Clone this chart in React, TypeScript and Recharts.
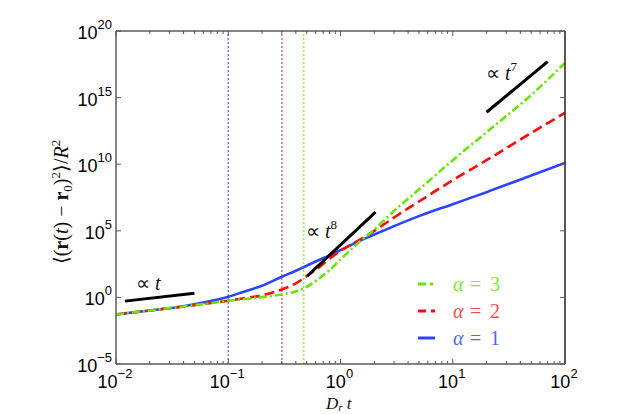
import { Legend, Line, LineChart, ReferenceLine, XAxis, YAxis } from "recharts";

// Dimensionless time D_r t (log-spaced read points)
const T = [0.01, 0.02, 0.04, 0.063, 0.1, 0.14, 0.2, 0.3, 0.4, 0.5, 0.63, 0.8, 1, 1.4, 2, 3, 5, 10, 20, 50, 100];

// log10 of the mean-square displacement
const BLUE_EXP = [-1.28, -0.98, -0.66, -0.35, 0.05, 0.45, 0.88, 1.55, 2.0, 2.38, 2.77, 3.15, 3.55, 4.15, 4.72, 5.35, 6.1, 7.0, 7.9, 9.15, 10.1];
const RED_EXP = [-1.28, -0.98, -0.68, -0.48, -0.25, -0.05, 0.15, 0.6, 1.05, 1.6, 2.2, 2.9, 3.5, 4.2, 5.0, 6.0, 7.2, 8.8, 10.3, 12.35, 13.85];
const GREEN_EXP = [-1.28, -0.98, -0.68, -0.48, -0.25, -0.12, 0.02, 0.22, 0.45, 0.8, 1.35, 2.05, 2.85, 4.0, 5.1, 6.5, 8.1, 10.3, 12.4, 15.2, 17.6];

// guide segments (t, log10 y)
const SLOPE1_T = [0.012, 0.05];
const SLOPE1_EXP = [-0.28, 0.32];
const SLOPE8_T = [0.505, 2.05];
const SLOPE8_EXP = [1.6, 6.4];
const SLOPE7_T = [20, 70];
const SLOPE7_EXP = [13.9, 17.7];

// crossover times
const CROSS_T = [0.1, 0.3, 0.47];

const X_MAJOR = [0.01, 0.1, 1, 10, 100];
const Y_TICKS = [1e-5, 1, 1e5, 1e10, 1e15, 1e20];

const BLUE = "#2a44ff";
const RED = "#ff0a0a";
const GREEN = "#66e600";
const CROSS_COLORS = ["#6f82ff", "#ff6666", "#8cf04a"];
const AXIS = "#5a5a5a";
const SANS = "'Liberation Sans', Arial, sans-serif";
const SERIF = "'Liberation Serif', 'Times New Roman', serif";

const X_TICKS = X_MAJOR.slice(0, -1).flatMap((d) => [1, 2, 3, 4, 5, 6, 7, 8, 9].map((k) => +(d * k).toPrecision(3))).concat([100]);

const data = T.map((t, i) => ({
  t,
  blue: 10 ** BLUE_EXP[i],
  red: 10 ** RED_EXP[i],
  green: 10 ** GREEN_EXP[i],
}));

const segment = (ts: number[], exps: number[]) => ts.map((t, i) => ({ t, y: 10 ** exps[i] }));

const isMajor = (v: number) => Math.abs(Math.log10(v) - Math.round(Math.log10(v))) < 1e-6;
const expLabel = (v: number) => {
  const e = Math.round(Math.log10(v));
  return e < 0 ? `\u2212${-e}` : `${e}`;
};

function PowerText({ x, y, v, anchor }: { x: number; y: number; v: number; anchor: "middle" | "end" }) {
  return (
    <text x={x} y={y} textAnchor={anchor} fontFamily={SANS} fontSize={18} fill="#000">
      <tspan>10</tspan>
      <tspan dy={-10} fontSize={13}>
        {expLabel(v)}
      </tspan>
    </text>
  );
}

function BottomTick({ x, y, payload }: any) {
  const major = isMajor(payload.value);
  return (
    <g>
      <line x1={x} x2={x} y1={y} y2={y - (major ? 5 : 3)} stroke={AXIS} />
      {major && <PowerText x={x - 1} y={y + 24} v={payload.value} anchor="middle" />}
    </g>
  );
}

function TopTick({ x, y, payload }: any) {
  const major = isMajor(payload.value);
  return <line x1={x} x2={x} y1={y} y2={y + (major ? 5 : 3)} stroke={AXIS} />;
}

function LeftTick({ x, y, payload }: any) {
  return (
    <g>
      <line x1={x} x2={x + 5} y1={y} y2={y} stroke={AXIS} />
      <PowerText x={x - 4} y={y + 8} v={payload.value} anchor="end" />
    </g>
  );
}

function RightTick({ x, y }: any) {
  return <line x1={x} x2={x - 5} y1={y} y2={y} stroke={AXIS} />;
}

const LEGEND_ROWS = [
  { label: "3", color: GREEN, text: "#7ee83a", dash: "8 4 3 4" },
  { label: "2", color: RED, text: "#ff4a4a", dash: "8 5" },
  { label: "1", color: BLUE, text: "#4f66ff", dash: undefined },
];

function LegendBox() {
  return (
    <svg width={110} height={84}>
      {LEGEND_ROWS.map((r, i) => {
        const cy = 14 + i * 27;
        return (
          <g key={r.label} fontFamily={SERIF} fontSize={20} fill={r.text}>
            <line x1={6} x2={23} y1={cy} y2={cy} stroke={r.color} strokeWidth={3} strokeDasharray={r.dash} />
            <text x={41} y={cy + 7} fontStyle="italic">α</text>
            <text x={58} y={cy + 7}>=</text>
            <text x={78} y={cy + 7}>{r.label}</text>
          </g>
        );
      })}
    </svg>
  );
}

const axisLine = { stroke: AXIS, strokeWidth: 1.5 };

export default function App() {
  return (
    <div style={{ position: "absolute", left: 0, top: 0, background: "#fff" }}>
      <LineChart width={623} height={414} data={data} margin={{ top: 30, right: 57, bottom: 49, left: 115 }}>
        <XAxis
          dataKey="t"
          type="number"
          scale="log"
          domain={[0.01, 100]}
          allowDataOverflow
          ticks={X_TICKS}
          interval={0}
          tick={<BottomTick />}
          tickLine={false}
          tickSize={0}
          tickMargin={0}
          height={1}
          axisLine={axisLine}
        />
        <XAxis
          xAxisId="top"
          orientation="top"
          dataKey="t"
          type="number"
          scale="log"
          domain={[0.01, 100]}
          allowDataOverflow
          ticks={X_TICKS}
          interval={0}
          tick={<TopTick />}
          tickLine={false}
          tickSize={0}
          tickMargin={0}
          height={1}
          axisLine={axisLine}
        />
        <YAxis
          type="number"
          scale="log"
          domain={[1e-5, 1e20]}
          allowDataOverflow
          ticks={Y_TICKS}
          interval={0}
          tick={<LeftTick />}
          tickLine={false}
          tickSize={0}
          tickMargin={0}
          width={1}
          axisLine={axisLine}
        />
        <YAxis
          yAxisId="right"
          orientation="right"
          type="number"
          scale="log"
          domain={[1e-5, 1e20]}
          allowDataOverflow
          ticks={Y_TICKS}
          interval={0}
          tick={<RightTick />}
          tickLine={false}
          tickSize={0}
          tickMargin={0}
          width={1}
          axisLine={{ stroke: "#222", strokeWidth: 1.5 }}
        />
        {CROSS_T.map((t, i) => (
          <ReferenceLine key={t} x={t} stroke={CROSS_COLORS[i]} strokeWidth={1.5} strokeDasharray="2 2" />
        ))}
        <Line dataKey="blue" type="monotone" stroke={BLUE} strokeWidth={2.6} dot={false} isAnimationActive={false} />
        <Line dataKey="red" type="monotone" stroke={RED} strokeWidth={2.6} strokeDasharray="10 5" dot={false} isAnimationActive={false} />
        <Line dataKey="green" type="monotone" stroke={GREEN} strokeWidth={2.6} strokeDasharray="8 3 2 3" dot={false} isAnimationActive={false} />
        <Line data={segment(SLOPE1_T, SLOPE1_EXP)} dataKey="y" stroke="#000" strokeWidth={3} dot={false} isAnimationActive={false} />
        <Line data={segment(SLOPE8_T, SLOPE8_EXP)} dataKey="y" stroke="#000" strokeWidth={3} dot={false} isAnimationActive={false} />
        <Line data={segment(SLOPE7_T, SLOPE7_EXP)} dataKey="y" stroke="#000" strokeWidth={3} dot={false} isAnimationActive={false} />
        <Legend
          layout="vertical"
          align="center"
          verticalAlign="middle"
          wrapperStyle={{ left: 412, top: 270, width: 110, height: 84 }}
          content={() => <LegendBox />}
        />
        <text x={136} y={290} fontFamily={SERIF} fontSize={20} fill="#111">
          ∝ <tspan fontStyle="italic">t</tspan>
        </text>
        <text x={306} y={238} fontFamily={SERIF} fontSize={20} fill="#111">
          ∝ <tspan fontStyle="italic">t</tspan>
          <tspan dy={-9} fontSize={13}>8</tspan>
        </text>
        <text x={486} y={80} fontFamily={SERIF} fontSize={20} fill="#111">
          ∝ <tspan fontStyle="italic">t</tspan>
          <tspan dy={-9} fontSize={13}>7</tspan>
        </text>
        <text x={326} y={409} fontFamily={SERIF} fontSize={17} fontStyle="italic" fill="#111">
          D<tspan dy={2} fontSize={11}>r</tspan>
          <tspan dy={-2}> t</tspan>
        </text>
        <text x={68} y={202} transform="rotate(-90 68 202)" textAnchor="middle" fontFamily={SERIF} fontSize={20} fill="#111">
          ⟨(<tspan fontWeight="bold">r</tspan>(<tspan fontStyle="italic">t</tspan>) − <tspan fontWeight="bold">r</tspan>
          <tspan dy={4} fontSize={13}>0</tspan>
          <tspan dy={-4}>)</tspan>
          <tspan dy={-8} fontSize={13}>2</tspan>
          <tspan dy={8}>⟩/</tspan>
          <tspan fontStyle="italic">R</tspan>
          <tspan dy={-8} fontSize={13}>2</tspan>
        </text>
      </LineChart>
    </div>
  );
}
